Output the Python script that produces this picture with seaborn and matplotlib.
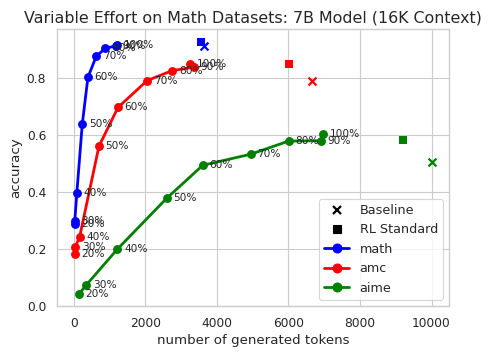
import numpy as np
import pandas as pd
import seaborn as sns
import matplotlib
matplotlib.use('Agg')
import matplotlib.pyplot as plt
from matplotlib.lines import Line2D

# Effort levels (labels next to each point)
levels = ['20%', '30%', '40%', '50%', '60%', '70%', '80%', '90%', '100%']

# Variable effort curves: tokens and accuracy per dataset
math_tokens = [20, 25, 84, 235, 393, 628, 880, 1180, 1210]
math_acc = [0.288, 0.298, 0.398, 0.638, 0.802, 0.877, 0.904, 0.913, 0.917]

amc_tokens = [20, 39, 160, 702, 1235, 2048, 2750, 3360, 3250]
amc_acc = [0.182, 0.208, 0.242, 0.561, 0.697, 0.791, 0.826, 0.838, 0.848]

aime_tokens = [141, 347, 1217, 2593, 3603, 4949, 6005, 6903, 6959]
aime_acc = [0.042, 0.074, 0.200, 0.378, 0.494, 0.533, 0.579, 0.580, 0.605]

# Baseline and RL Standard reference points
datasets = ['math', 'amc', 'aime']
colors = ['blue', 'red', 'green']
baseline_tokens = [3646, 6661, 10000]
baseline_acc = [0.912, 0.791, 0.505]
rl_tokens = [3555, 6024, 9203]
rl_acc = [0.927, 0.848, 0.582]

curves = {
    'math': (math_tokens, math_acc),
    'amc': (amc_tokens, amc_acc),
    'aime': (aime_tokens, aime_acc),
}

rows = []
for name, (tok, acc) in curves.items():
    for lvl, t, a in zip(levels, tok, acc):
        rows.append({'dataset': name, 'level': lvl, 'tokens': t, 'accuracy': a})
df = pd.DataFrame(rows)

sns.set_theme(style='whitegrid')

fig, ax = plt.subplots(figsize=(489 / 80, 356 / 80), dpi=80)

for name, color in zip(datasets, colors):
    sub = df[df['dataset'] == name]
    sns.lineplot(data=sub, x='tokens', y='accuracy', color=color, marker='o',
                 markersize=8, markeredgewidth=0, linewidth=2.5, sort=False,
                 estimator=None, ax=ax)
    for _, r in sub.iterrows():
        ax.annotate(r['level'], (r['tokens'], r['accuracy']), xytext=(6, 0),
                    textcoords='offset points', ha='left', va='center',
                    fontsize=9.5, color='.15')

for name, color, bt, ba, rt, ra in zip(datasets, colors, baseline_tokens, baseline_acc, rl_tokens, rl_acc):
    ax.scatter([bt], [ba], marker='x', color=color, s=50, linewidths=2, zorder=3)
    ax.scatter([rt], [ra], marker='s', color=color, s=55, linewidths=0, zorder=3)

ax.set_ylim(bottom=0)
ax.set_xlabel('number of generated tokens')
ax.set_ylabel('accuracy')
ax.set_title('Variable Effort on Math Datasets: 7B Model (16K Context)', fontsize=14.3)

handles = [
    Line2D([], [], marker='x', color='black', linestyle='none', markersize=7, markeredgewidth=2),
    Line2D([], [], marker='s', color='black', linestyle='none', markersize=7),
]
for color in colors:
    handles.append(Line2D([], [], marker='o', color=color, linewidth=2.5, markersize=8))
ax.legend(handles, ['Baseline', 'RL Standard'] + datasets, loc='lower right', fontsize=11.5)

fig.subplots_adjust(left=0.116, right=0.919, top=0.918, bottom=0.140)
fig.savefig('out.png', dpi=80)
